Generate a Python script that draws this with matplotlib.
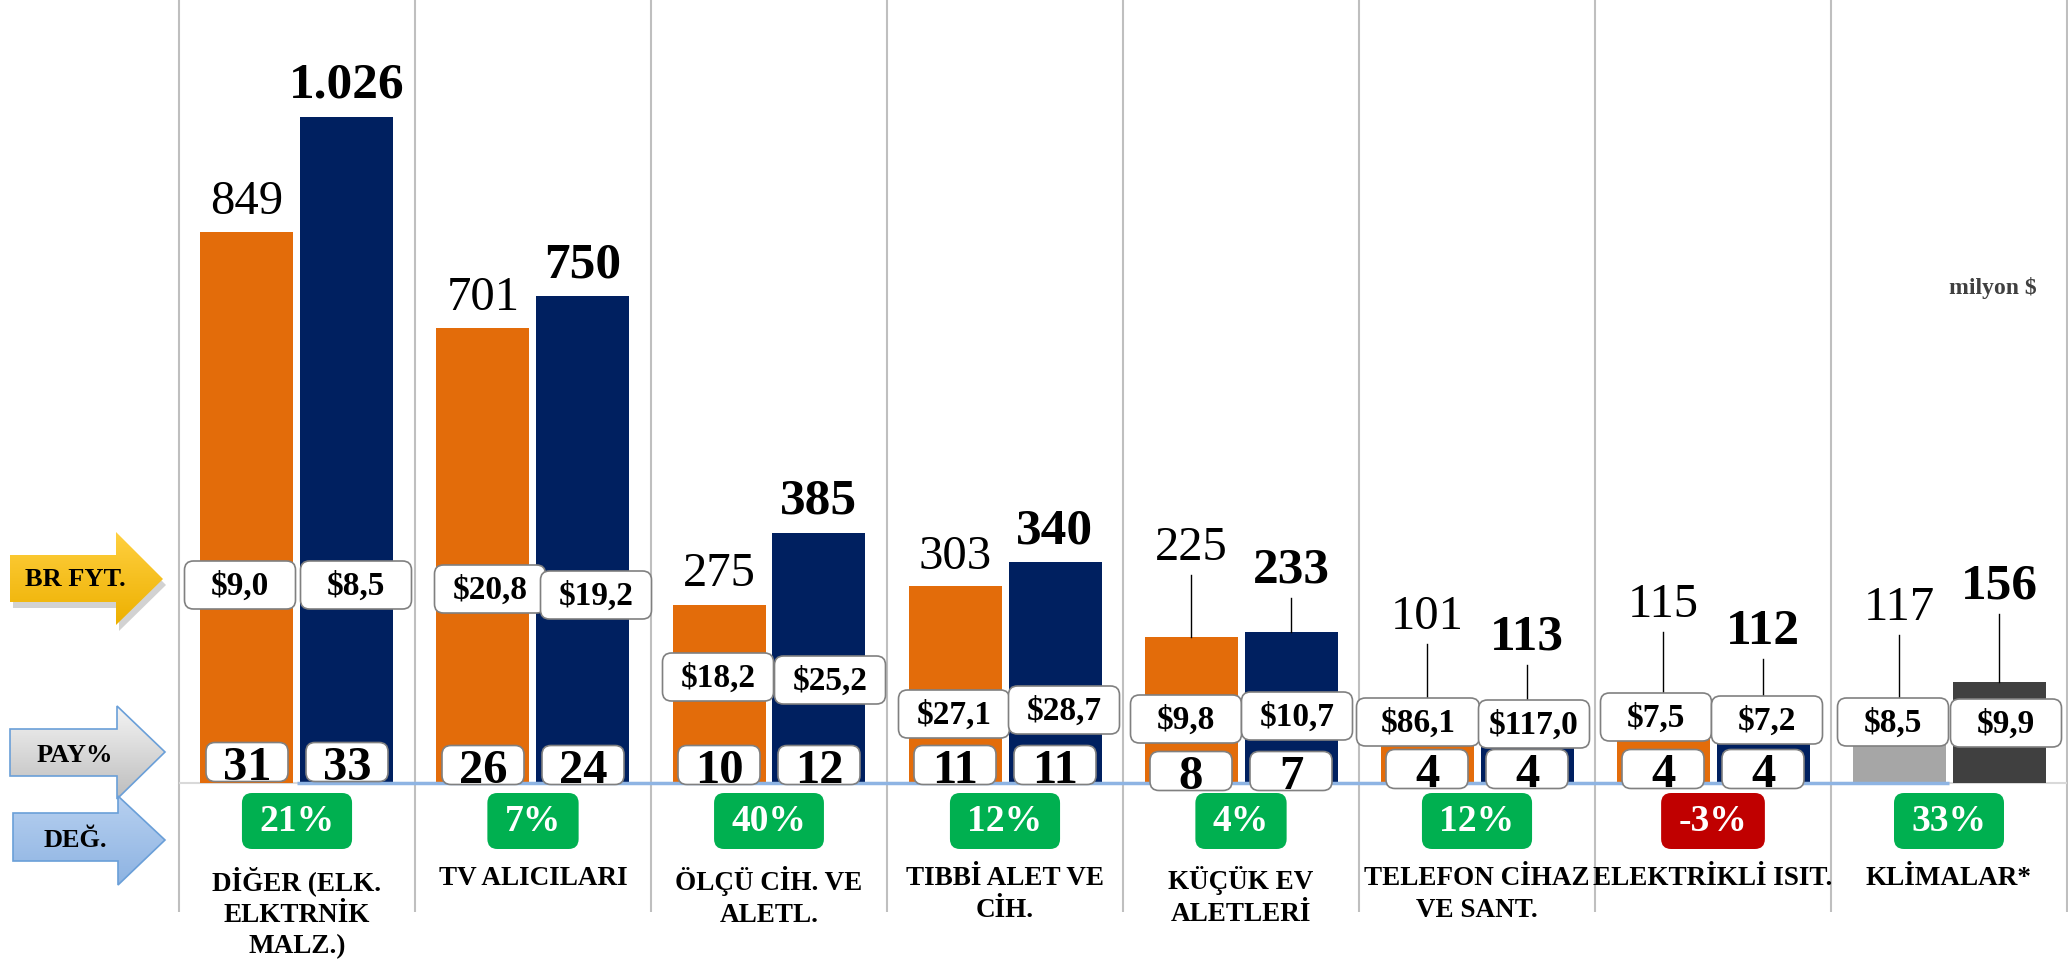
import numpy as np
import matplotlib
matplotlib.use("Agg")
import matplotlib.pyplot as plt
from matplotlib.patches import FancyBboxPatch, Polygon
from matplotlib.colors import LinearSegmentedColormap

plt.rcParams["font.family"] = ["Liberation Serif", "DejaVu Serif"]

# data
categories = ["DİĞER (ELK.\nELKTRNİK\nMALZ.)", "TV ALICILARI", "ÖLÇÜ CİH. VE\nALETL.",
              "TIBBİ ALET VE\nCİH.", "KÜÇÜK EV\nALETLERİ", "TELEFON CİHAZ\nVE SANT.",
              "ELEKTRİKLİ ISIT.", "KLİMALAR*"]
value_prev = [849, 701, 275, 303, 225, 101, 115, 117]
value_curr = [1026, 750, 385, 340, 233, 113, 112, 156]
price_prev = ["$9,0", "$20,8", "$18,2", "$27,1", "$9,8", "$86,1", "$7,5", "$8,5"]
price_curr = ["$8,5", "$19,2", "$25,2", "$28,7", "$10,7", "$117,0", "$7,2", "$9,9"]
share_prev = [31, 26, 10, 11, 8, 4, 4]
share_curr = [33, 24, 12, 11, 7, 4, 4]
change_pct = [21, 7, 40, 12, 4, 12, -3, 33]

# layout (pixels of the 2068x962 picture)
W, H = 2068, 962
PX_CAT = 236      # px per category
X0_PX = 297       # px of the first category centre
BASE_PX = 784     # px of the zero line
PX_UNIT = 0.649   # px per million $

COL_PREV = ["#E36C0A"] * 7 + ["#A6A6A6"]
COL_CURR = ["#002060"] * 7 + ["#404040"]

# label lift above bar top (px), price box centre above baseline (px), share box lift (px)
lift_prev = [31, 31, 32, 30, 90, 101, 104, 100]
lift_curr = [33, 32, 33, 32, 62, 73, 79, 96]
pbox_prev = [198, 194, 106, 69, 64, 61, 66, 61]
pbox_curr = [198, 188, 103, 73, 67, 59, 63, 60]
pbox_dx_prev = [-7, 7, -1, -1, -5, -9, -7, -6]
pbox_dx_curr = [9, 13, 11, 9, 6, 7, 4, 7]
share_lift = [21, 18, 18, 18, 12, 14, 14]


def dx(px):
    return px / PX_CAT


def dy(px):
    return px / PX_UNIT


def rbox(ax, xc, yc, wpx, hpx, fc, ec, lw=1.2, z=4, r=9):
    w, h = dx(wpx), dy(hpx)
    p = FancyBboxPatch((xc - w / 2, yc - h / 2), w, h,
                       boxstyle=f"round,pad=0,rounding_size={dx(r)}",
                       mutation_aspect=PX_CAT / PX_UNIT,
                       facecolor=fc, edgecolor=ec, lw=lw, zorder=z)
    ax.add_patch(p)


fig = plt.figure(figsize=(W / 100, H / 100), dpi=100)
ax = fig.add_axes([0, 0, 1, 1])
ax.set_xlim(-X0_PX / PX_CAT, (W - X0_PX) / PX_CAT)
ax.set_ylim((BASE_PX - H) / PX_UNIT, BASE_PX / PX_UNIT)
ax.axis("off")

x = np.arange(len(categories))
off = dx(50)
bw = dx(93)

# separators and zero line
ax.vlines(np.arange(len(categories) + 1) - 0.5, dy(BASE_PX - 913), dy(BASE_PX),
          color="#BFBFBF", lw=1.5, zorder=1)
ax.hlines(0, -0.5, len(categories) - 0.5, color="#D9D9D9", lw=1.5, zorder=1)

ax.bar(x - off, value_prev, bw, color=COL_PREV, zorder=2)
ax.bar(x + off, value_curr, bw, color=COL_CURR, zorder=2)
ax.hlines(0, 0, len(categories) - 1, color="#8EB4E3", lw=2.5, zorder=2.5)

for i in range(len(categories)):
    for sign, vals, lifts, boxes, bdx, prices, bold in [
            (-1, value_prev, lift_prev, pbox_prev, pbox_dx_prev, price_prev, False),
            (1, value_curr, lift_curr, pbox_curr, pbox_dx_curr, price_curr, True)]:
        xc = i + sign * off
        v = vals[i]
        ly = v + dy(lifts[i])
        ax.text(xc, ly, f"{v:,}".replace(",", "."), ha="center", va="center",
                fontsize=37 if bold else 35, fontweight="bold" if bold else "normal",
                color="black", zorder=5)
        # price box
        py = dy(boxes[i])
        pw = 123 if prices[i].startswith("$86") else 111
        rbox(ax, xc + dx(bdx[i]), py, pw, 48, "white", "#808080")
        ax.text(xc + dx(bdx[i]), py, prices[i], ha="center", va="center",
                fontsize=24, fontweight="bold", zorder=5)
        if lifts[i] > 45:
            y_end = max(v, py + dy(24))
            ax.plot([xc, xc], [ly - dy(28), y_end], color="black", lw=1, zorder=3)

# share boxes
for i in range(len(share_prev)):
    for sign, s in [(-1, share_prev[i]), (1, share_curr[i])]:
        xc = i + sign * off
        yc = dy(share_lift[i])
        rbox(ax, xc, yc, 82, 39, "white", "#808080")
        ax.text(xc, yc - dy(17), str(s), ha="center", va="baseline",
                fontsize=35, fontweight="bold", zorder=5)

# change boxes
renderer = fig.canvas.get_renderer()
for i, c in enumerate(change_pct):
    yc = dy(BASE_PX - 822)
    t = ax.text(i, yc, f"{c}%", ha="center", va="center", fontsize=27,
                fontweight="bold", color="white", zorder=6)
    tw = t.get_window_extent(renderer).width
    rbox(ax, i, yc, tw + 35, 56, "#00B050" if c >= 0 else "#C00000", "none", z=5, r=10)

# category labels
for i, c in enumerate(categories):
    ax.text(i, dy(BASE_PX - 866), c, ha="center", va="top", fontsize=19.5,
            fontweight="bold", linespacing=1.35, zorder=5)

ax.text(dx(2037 - X0_PX), dy(BASE_PX - 288), "milyon $", ha="right", va="center",
        fontsize=17, fontweight="bold", color="#404040")

# left arrows, pixel coordinates
deco = fig.add_axes([0, 0, 1, 1])
deco.patch.set_visible(False)
deco.axis("off")


def grad_arrow(pts, c_top, c_bot, edge, label, ty, shadow=False):
    if shadow:
        sh = [(px + 3, py + 6) for px, py in pts]
        deco.add_patch(Polygon(sh, closed=True, facecolor="#7F7F7F", alpha=0.35,
                               edgecolor="none", zorder=1))
    poly = Polygon(pts, closed=True, facecolor="none", edgecolor=edge, lw=1.2, zorder=3)
    xs, ys = zip(*pts)
    cmap = LinearSegmentedColormap.from_list("g", [c_top, c_bot])
    im = deco.imshow(np.linspace(0, 1, 256).reshape(-1, 1), cmap=cmap, aspect="auto",
                     extent=[min(xs), max(xs), max(ys), min(ys)], zorder=2)
    deco.add_patch(poly)
    im.set_clip_path(poly)
    deco.text(75, ty, label, ha="center", va="center", fontsize=19,
              fontweight="bold", zorder=4)


grad_arrow([(10, 556), (116, 556), (116, 533), (163, 580), (116, 626), (116, 603), (10, 603)],
           "#FFD040", "#EDB000", "none", "BR FYT.", 580, shadow=True)
grad_arrow([(10, 730), (117, 730), (117, 707), (165, 753), (117, 800), (117, 777), (10, 777)],
           "#F4F4F4", "#BDBDBD", "#6A9FD8", "PAY%", 756)
grad_arrow([(13, 814), (118, 814), (118, 797), (165, 841), (118, 886), (118, 862), (13, 862)],
           "#B7D0F0", "#8DB3E2", "#6A9FD8", "DEĞ.", 841)

deco.set_xlim(0, W)
deco.set_ylim(H, 0)

fig.savefig("out.png", dpi=100)
